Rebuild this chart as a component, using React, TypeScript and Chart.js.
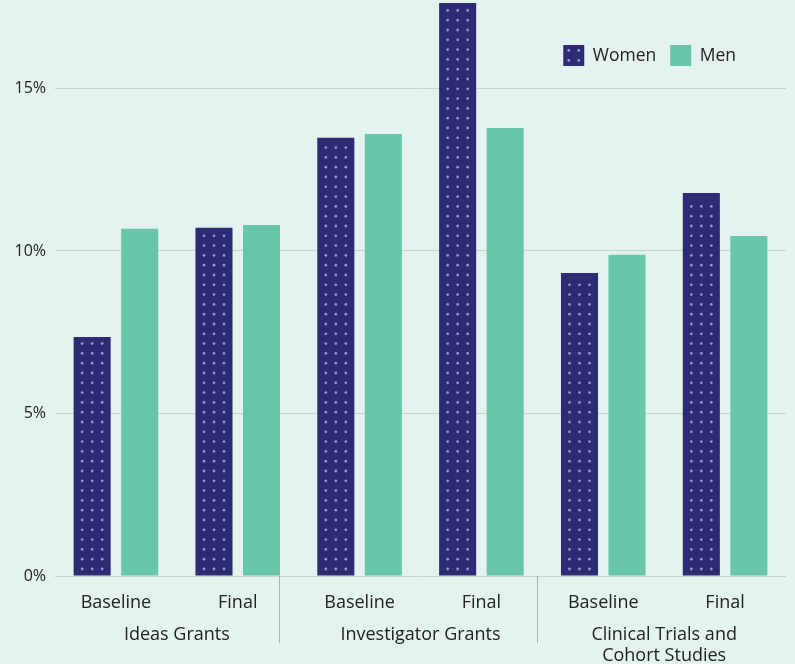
import React, { useEffect, useRef } from "react";
import { Chart, registerables } from "chart.js";

Chart.register(...registerables);

const subLabels = ["Baseline", "Final", "Baseline", "Final", "Baseline", "Final"];
const groupLabels: (string | string[])[] = [
  "Ideas Grants",
  "Investigator Grants",
  ["Clinical Trials and", "Cohort Studies"],
];
const seriesNames = ["Women", "Men"];
const women = [7.35, 10.71, 13.48, 17.63, 9.32, 11.78];
const men = [10.68, 10.8, 13.6, 13.78, 9.88, 10.46];
const yTicks = [0, 5, 10, 15];
const separatorPositions = [1.34, 3.46];

const BG = "#e4f3ef";
const WOMEN_COLOR = "#2e2a73";
const MEN_COLOR = "#68c6ab";
const DOT_COLOR = "#9895d0";
const GRID_COLOR = "#c6d3cf";
const SEP_COLOR = "#a9b4b1";
const TEXT_COLOR = "#222222";
const FONT_FAMILY = "'Open Sans', sans-serif";

const bgPlugin = {
  id: "bg",
  beforeDraw(chart: any) {
    const { ctx, width, height } = chart;
    ctx.save();
    ctx.fillStyle = BG;
    ctx.fillRect(0, 0, width, height);
    ctx.restore();
  },
};

const dotsPlugin = {
  id: "dots",
  afterDatasetsDraw(chart: any) {
    const { ctx } = chart;
    const meta = chart.getDatasetMeta(0);
    ctx.save();
    ctx.fillStyle = DOT_COLOR;
    meta.data.forEach((bar: any) => {
      const { x, y, base } = bar.getProps(["x", "y", "base"], true);
      for (let yy = base - 6.5; yy > y + 5; yy -= 9.8) {
        for (let k = -1; k <= 1; k++) {
          ctx.beginPath();
          ctx.arc(x + k * 10, yy, 1.4, 0, Math.PI * 2);
          ctx.fill();
        }
      }
    });
    ctx.restore();
  },
};

const separatorPlugin = {
  id: "separators",
  afterDraw(chart: any) {
    const { ctx, chartArea } = chart;
    const xs = chart.scales.x;
    ctx.save();
    ctx.strokeStyle = SEP_COLOR;
    ctx.lineWidth = 1;
    separatorPositions.forEach((p) => {
      const px = Math.round(xs.getPixelForValue(p)) + 0.5;
      ctx.beginPath();
      ctx.moveTo(px, chartArea.bottom);
      ctx.lineTo(px, chartArea.bottom + 67);
      ctx.stroke();
    });
    ctx.restore();
  },
};

const legendPlugin = {
  id: "customLegend",
  afterDraw(chart: any) {
    const { ctx, chartArea } = chart;
    const box = 21;
    const gapText = 8.5;
    const gapItem = 14;
    ctx.save();
    ctx.font = `17.5px ${FONT_FAMILY}`;
    const items = chart.data.datasets.map((d: any) => ({
      label: d.label,
      color: d.backgroundColor,
      w: ctx.measureText(d.label).width,
    }));
    let total = 0;
    items.forEach((it: any, i: number) => {
      total += box + gapText + it.w + (i < items.length - 1 ? gapItem : 0);
    });
    let x = chartArea.right - 50 - total;
    const top = chartArea.top + 45;
    items.forEach((it: any, i: number) => {
      ctx.fillStyle = it.color;
      ctx.fillRect(x, top, box, box);
      if (i === 0) {
        ctx.fillStyle = DOT_COLOR;
        for (const dx of [5.5, 15.5])
          for (const dy of [5.5, 15.5]) {
            ctx.beginPath();
            ctx.arc(x + dx, top + dy, 1.4, 0, Math.PI * 2);
            ctx.fill();
          }
      }
      x += box + gapText;
      ctx.fillStyle = TEXT_COLOR;
      ctx.textBaseline = "middle";
      ctx.textAlign = "left";
      ctx.fillText(it.label, x, top + box / 2 + 0.5);
      x += it.w + gapItem;
    });
    ctx.restore();
  },
};

export default function App() {
  const canvasRef = useRef<HTMLCanvasElement | null>(null);

  useEffect(() => {
    document.body.style.margin = "0";
    document.body.style.background = BG;
    const canvas = canvasRef.current;
    if (!canvas) return;
    const yFont = { family: FONT_FAMILY, size: 16 };
    const xFont = { family: FONT_FAMILY, size: 18 };
    const chart = new Chart(canvas, {
      type: "bar",
      data: {
        labels: subLabels,
        datasets: [
          {
            label: seriesNames[0],
            data: women,
            backgroundColor: WOMEN_COLOR,
            borderWidth: 0,
            xAxisID: "x",
            categoryPercentage: 0.78,
            barPercentage: 0.78,
          },
          {
            label: seriesNames[1],
            data: men,
            backgroundColor: MEN_COLOR,
            borderWidth: 0,
            xAxisID: "x",
            categoryPercentage: 0.78,
            barPercentage: 0.78,
          },
        ],
      },
      options: {
        animation: false,
        responsive: true,
        maintainAspectRatio: false,
        layout: { padding: { top: 0, right: 9, left: 0, bottom: 0 } },
        plugins: {
          legend: { display: false },
          tooltip: { enabled: false },
        },
        scales: {
          x: {
            type: "category",
            position: "bottom",
            weight: 0,
            grid: { display: false },
            border: { display: false },
            ticks: {
              color: TEXT_COLOR,
              font: xFont,
              padding: 8,
              maxRotation: 0,
              autoSkip: false,
            },
            afterFit: (s: any) => {
              s.height = 38;
            },
          },
          x2: {
            type: "category",
            position: "bottom",
            weight: 1,
            labels: groupLabels as any,
            offset: true,
            grid: { display: false },
            border: { display: false },
            ticks: {
              color: TEXT_COLOR,
              font: { ...xFont, lineHeight: 1.17 },
              padding: 2,
              maxRotation: 0,
              autoSkip: false,
            },
            afterFit: (s: any) => {
              s.height = 50;
            },
          },
          y: {
            min: 0,
            max: 17.72,
            afterBuildTicks: (a: any) => {
              a.ticks = yTicks.map((v) => ({ value: v }));
            },
            ticks: {
              color: TEXT_COLOR,
              font: yFont,
              padding: 9,
              callback: (v: any) => `${v}%`,
            },
            grid: { color: GRID_COLOR, drawTicks: false, lineWidth: 1 },
            border: { display: false },
            afterFit: (s: any) => {
              s.width = 55;
              s.paddingTop = 0;
              s.paddingBottom = 0;
            },
          },
        },
      },
      plugins: [bgPlugin, dotsPlugin, separatorPlugin, legendPlugin],
    });
    return () => chart.destroy();
  }, []);

  return (
    <div style={{ width: 795, height: 664, position: "relative", background: BG }}>
      <canvas ref={canvasRef} />
    </div>
  );
}
